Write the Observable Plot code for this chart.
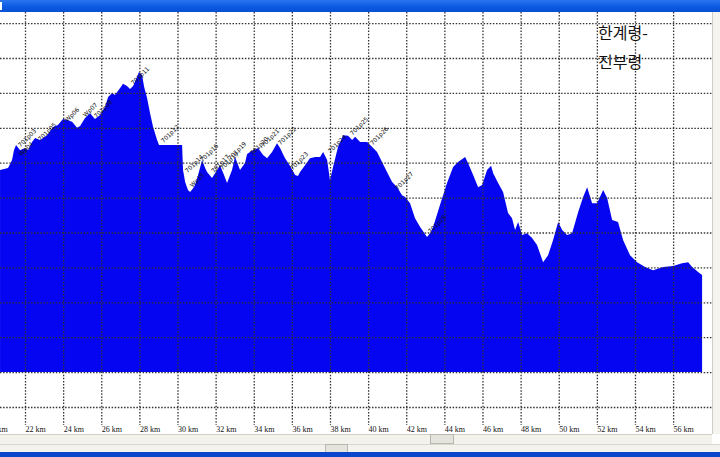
<!DOCTYPE html>
<html>
<head>
<meta charset="utf-8">
<script src="https://cdn.jsdelivr.net/npm/d3@7"></script>
<script src="https://cdn.jsdelivr.net/npm/@observablehq/plot@0.6"></script>
<style>
  html, body { margin: 0; padding: 0; background: #fff; }
  #wrap { position: relative; width: 720px; height: 457px; overflow: hidden; background: #fff; }
  #wrap svg { position: absolute; left: 0; top: 0; }
  .ttl { position: absolute; left: 598px; font-family: "Noto Sans CJK KR", sans-serif; font-size: 16px; line-height: 16px; color: #111; }
</style>
</head>
<body>
<div id="wrap"></div>
<script>
// Distance along route (km)
const km = [20.69,21.11,21.32,21.42,21.53,21.74,22.00,22.16,22.37,22.53,22.79,23.16,23.47,23.73,23.99,24.20,24.47,24.73,24.89,25.15,25.41,25.67,25.94,26.20,26.36,26.57,26.72,26.99,27.14,27.35,27.51,27.67,27.88,27.98,28.14,28.25,28.40,28.56,28.72,28.93,29.03,29.61,30.24,30.29,30.40,30.55,30.66,30.82,30.92,31.08,31.29,31.45,31.55,31.81,32.08,32.23,32.44,32.60,32.86,33.02,33.28,33.54,33.65,33.91,34.23,34.49,34.70,34.96,35.22,35.38,35.64,35.90,36.17,36.32,36.43,36.69,36.95,37.22,37.48,37.64,37.85,38.00,38.16,38.42,38.69,38.95,39.16,39.32,39.58,39.95,40.21,40.47,40.73,40.99,41.26,41.52,41.78,41.94,42.20,42.46,42.73,43.09,43.25,43.41,43.77,44.14,44.46,44.72,45.09,45.24,45.51,45.77,45.98,46.24,46.45,46.56,46.82,47.08,47.34,47.55,47.71,47.87,48.08,48.34,48.60,48.86,49.18,49.44,49.70,49.97,50.18,50.44,50.70,51.02,51.28,51.49,51.75,52.01,52.33,52.54,52.80,53.11,53.38,53.74,54.11,54.53,54.95,55.48,56.00,56.47,56.79,57.00,57.31,57.52];
// Elevation (m)
const elev = [979,985,1008,1036,1051,1036,1042,1036,1059,1071,1065,1079,1102,1108,1125,1122,1117,1100,1105,1128,1142,1125,1137,1160,1188,1200,1194,1214,1226,1220,1211,1220,1246,1260,1251,1217,1186,1142,1102,1065,1051,1051,1051,979,945,922,916,927,936,965,1008,985,973,956,979,993,965,942,979,1016,979,999,1025,1034,1042,1022,1013,1031,1056,1042,1013,991,965,962,973,993,1013,1016,1016,1031,1008,950,988,1045,1079,1077,1065,1074,1059,1059,1045,1031,1002,973,945,930,907,902,884,841,816,787,798,816,879,942,988,1002,1016,999,965,930,936,979,991,970,942,916,856,841,807,830,793,798,784,764,715,735,778,830,807,793,798,859,902,930,884,884,922,899,836,830,778,735,715,701,692,701,704,712,715,701,687,678];
const baseElev = 400;

// Waypoints
const wpName = ["701p03","Wp04","701p05","Wp06","Wp07","701p08","701p11","701p12","701p14","Wp15","701p16","701p17","701p18","701p19","701p20","701p21","701p22","701p23","701p24","701p25","701p26","701p27","701p28"];
const wpKm   = [21.74,21.79,22.79,24.20,25.15,25.73,27.67,29.24,30.50,30.76,31.29,31.87,32.34,32.76,33.91,34.49,35.38,36.01,38.00,39.16,40.21,41.52,43.25];
const wpElev = [1045,1019,1062,1117,1131,1128,1223,1057,971,930,1002,971,979,1008,1022,1045,1051,979,1028,1079,1051,922,798];

// Axis ticks / grid
const tickKm = d3.range(20, 57, 2);
const gridElev = d3.range(300, 1401, 100);
const titleLines = ["한계령-", "진부령"];

const profile = km.map((k, i) => ({km: k, elev: elev[i]}));
const waypoints = wpName.map((n, i) => ({name: n, km: wpKm[i], elev: wpElev[i]}));

const dotted = {stroke: "#333", strokeOpacity: 1, strokeWidth: 1.3, strokeDasharray: "1.5,1.6"};

const chart = Plot.plot({
  width: 720,
  height: 457,
  marginTop: 12,
  marginBottom: 32,
  marginLeft: 0,
  marginRight: 8,
  style: {fontFamily: "Liberation Serif, serif", background: "transparent"},
  x: {domain: [20.688, 58.04], axis: null},
  y: {domain: [248.4, 1431.8], axis: null},
  marks: [
    Plot.areaY(profile, {x: "km", y1: baseElev, y2: "elev", fill: "#0505f2", curve: "linear"}),
    Plot.gridY({ticks: gridElev, ...dotted}),
    Plot.gridX({ticks: tickKm, ...dotted}),
    Plot.text(waypoints, {x: "km", y: "elev", text: "name", rotate: -45, textAnchor: "start", lineAnchor: "bottom", fontSize: 6, fontFamily: "DejaVu Sans", fill: "#111"}),
    Plot.axisX({ticks: tickKm, tickFormat: d => `${d} km`, tickSize: 0, tickPadding: 1, textAnchor: "start", fontSize: 8, fill: "#111", anchor: "bottom"})
  ]
});

const wrap = document.getElementById("wrap");
wrap.appendChild(chart);

function box(css) {
  const d = document.createElement("div");
  d.style.cssText = "position:absolute;" + css;
  wrap.appendChild(d);
  return d;
}
// window chrome (decoration)
box("left:0;top:0;width:720px;height:12px;background:linear-gradient(#2a76f0,#0a58e0 60%,#0a50d4);");
box("left:0;top:2px;width:2px;height:8px;background:#fff;");
box("left:712px;top:12px;width:8px;height:422px;background:#f5f4ef;border-left:1px solid #cfcfc6;");
box("left:0;top:434px;width:712px;height:9px;background:#f3f2ec;border-top:1px solid #cfcfc6;");
box("left:430px;top:434px;width:22px;height:8px;background:#e4e3dc;border:1px solid #b8b8b0;");
box("left:0;top:444px;width:720px;height:8px;background:#f3f2ec;border-top:1px solid #d8d8d0;");
box("left:325px;top:444px;width:21px;height:7px;background:#e4e3dc;border:1px solid #b8b8b0;");
box("left:0;top:452px;width:720px;height:5px;background:#0a46cc;");

titleLines.forEach((t, i) => {
  const d = document.createElement("div");
  d.className = "ttl";
  d.style.top = (24 + i * 29) + "px";
  d.textContent = t;
  wrap.appendChild(d);
});
</script>
</body>
</html>
